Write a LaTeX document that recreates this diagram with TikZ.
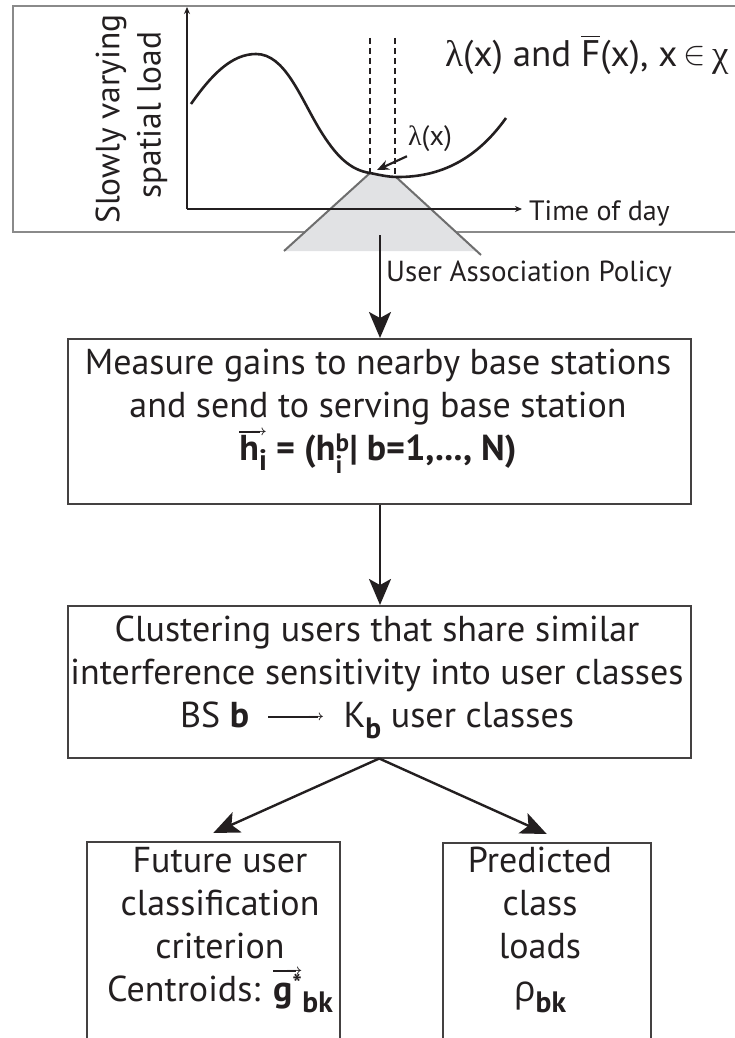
\documentclass[tikz,border=0pt]{standalone}
\usepackage{amsmath}
\usepackage{graphicx}
\usepackage{fontspec}
\setmainfont{PT Sans}
\newfontfamily\symf{Liberation Serif}
\newfontfamily\grk{Open Sans}
\usetikzlibrary{arrows.meta}
\definecolor{ink}{HTML}{231F20}
\definecolor{conegray}{HTML}{E1E2E4}
\definecolor{conestroke}{HTML}{6E6E6E}
\definecolor{panelgray}{HTML}{8A8A8A}
\newcommand\boxfs{\fontsize{36}{43}\selectfont}
\newcommand\lblfs{\fontsize{29}{34}\selectfont}
\newcommand\todfs{\fontsize{28}{34}\selectfont}
\newcommand\titlefs{\fontsize{37}{44}\selectfont}
\newcommand\ylabfs{\fontsize{33.5}{38}\selectfont}
\newcommand\smallfs{\fontsize{28}{32}\selectfont}
\newcommand\arrline[1]{\hbox to #1{\leaders\hrule height 1.8pt\hfill\kern-10pt\raisebox{-2.7pt}{\fontsize{14}{14}\selectfont\boldmath$\rightarrow$}}}
\newcommand\vecover[2]{\setbox0\hbox{#2}\rlap{\raisebox{\dimexpr\ht0+#1\relax}{\arrline{\wd0}}}\box0}
\newcommand\lowtext[1]{\raisebox{-0.3em}{\scalebox{0.82}{#1}}}
\begin{document}
\begin{tikzpicture}[x=1pt,y=-1pt,
  every node/.style={text=ink},
  boxnode/.style={draw=ink!85, line width=1.5, rectangle, inner sep=0, anchor=north west},
  boxtext/.style={font=\boxfs, align=center, inner sep=0},
  flow/.style={draw=ink, line width=2.4, -{Stealth[length=26,width=22,inset=6]}},
  axisline/.style={draw=ink, line width=2.6, -{Stealth[length=7,width=6]}},
  curveline/.style={draw=ink, line width=2.6},
  dashline/.style={draw=ink, line width=2.6, dash pattern=on 6 off 4},
  smallarrow/.style={draw=ink, line width=2.2, -{Stealth[length=12,width=10]}},
  coneline/.style={draw=conestroke, line width=2}
]
\useasboundingbox (0,0) rectangle (735,1038);

% top panel
\node[draw=panelgray, line width=2, rectangle, inner sep=0, anchor=north west,
      minimum width=748, minimum height=226] (panel) at (12,5) {};

% cone
\fill[conegray] (370,173) -- (284,251) -- (478,251) -- (396,177) -- cycle;
\draw[coneline] (370,173) -- (284,251);
\draw[coneline] (396,177) -- (481,255);

% axes
\coordinate (O) at (187,209);
\coordinate (ytop) at (187,7);
\coordinate (xend) at (522,209);
\draw[axisline] (O) -- (ytop);
\draw[axisline] (O) -- (xend);
\node[anchor=west, font=\todfs, inner sep=0] (tod) at (529,213) {Time of day};

% y labels
\node[rotate=90, font=\ylabfs, inner sep=0] (ylabA) at (111,119) {Slowly varying};
\node[rotate=90, font=\ylabfs, inner sep=0] (ylabB) at (152,115) {spatial load};

% curve
\draw[curveline] (191,104) .. controls (212,74) and (232,54) .. (256,54)
  .. controls (285,54) and (300,97) .. (320,130)
  .. controls (336,156) and (350,170) .. (370,173)
  .. controls (380,175) and (388,177) .. (398,177)
  .. controls (440,177) and (476,160) .. (506,118);

% dashed
\coordinate (dA1) at (370,38); \coordinate (dA2) at (370,177);
\coordinate (dB1) at (395,38); \coordinate (dB2) at (395,177);
\draw[dashline] (dA1) -- (dA2);
\draw[dashline] (dB1) -- (dB2);

% lambda label and arrow
\node[font=\smallfs, inner sep=0] (lam) at (430,139) {{\symf λ}(x)};
\coordinate (lamtip) at (377,170);
\draw[smallarrow] ([shift={(-1,4)}]lam.south west) -- (lamtip);

% title
\node[anchor=west, font=\titlefs, inner sep=0] (title) at (445,55)
  {{\symf λ}(x) and $\overline{\text{F}}$(x), x\,\raisebox{0.05em}{\scalebox{1.35}{$\in$}}\,{\symf χ}};

% user association policy
\coordinate (conebase) at (380,235);
\node[anchor=west, font=\lblfs, inner sep=0] (uap) at (386,274) {User Association Policy};

% boxes
\node[boxnode, minimum width=623, minimum height=165] (measure) at (67,338) {};
\node[boxtext] (measuretxt) at (378,411) {Measure gains to nearby base stations\\
  and send to serving base station\\
  {\bfseries \vecover{2pt}{h\lowtext{i}}\ = (h$_{\text{i}}^{\text{b}}$| b=1,..., N)}};

\node[boxnode, minimum width=623, minimum height=152] (cluster) at (67,605) {};
\node[boxtext] (clustertxt) at (377,677) {Clustering users that share similar\\
  interference sensitivity into user classes\\
  BS {\bfseries b} \ \raisebox{9pt}{\arrline{56pt}} \ K\lowtext{\bfseries b} user classes};

\node[boxnode, minimum width=253, minimum height=260] (leftbox) at (86,841) {};
\node[boxtext] (lefttxt) at (220,930) {Future user\\ classification\\ criterion\\
  Centroids: {\bfseries \vecover{2pt}{g$^{\text{*}}$}\lowtext{bk}}};

\node[boxnode, minimum width=208, minimum height=260] (rightbox) at (442,842) {};
\node[boxtext] (righttxt) at (540,930) {Predicted\\ class\\ loads\\
  {\grk ρ}\lowtext{\bfseries bk}};

% connectors
\draw[flow] (conebase) -- (conebase |- measure.north);
\draw[flow] (measure.south -| conebase) -- (cluster.north -| conebase);
\draw[flow] (cluster.south) -- ([yshift=8]leftbox.north);
\draw[flow] (cluster.south) -- ([yshift=8]rightbox.north);
\end{tikzpicture}
\end{document}
